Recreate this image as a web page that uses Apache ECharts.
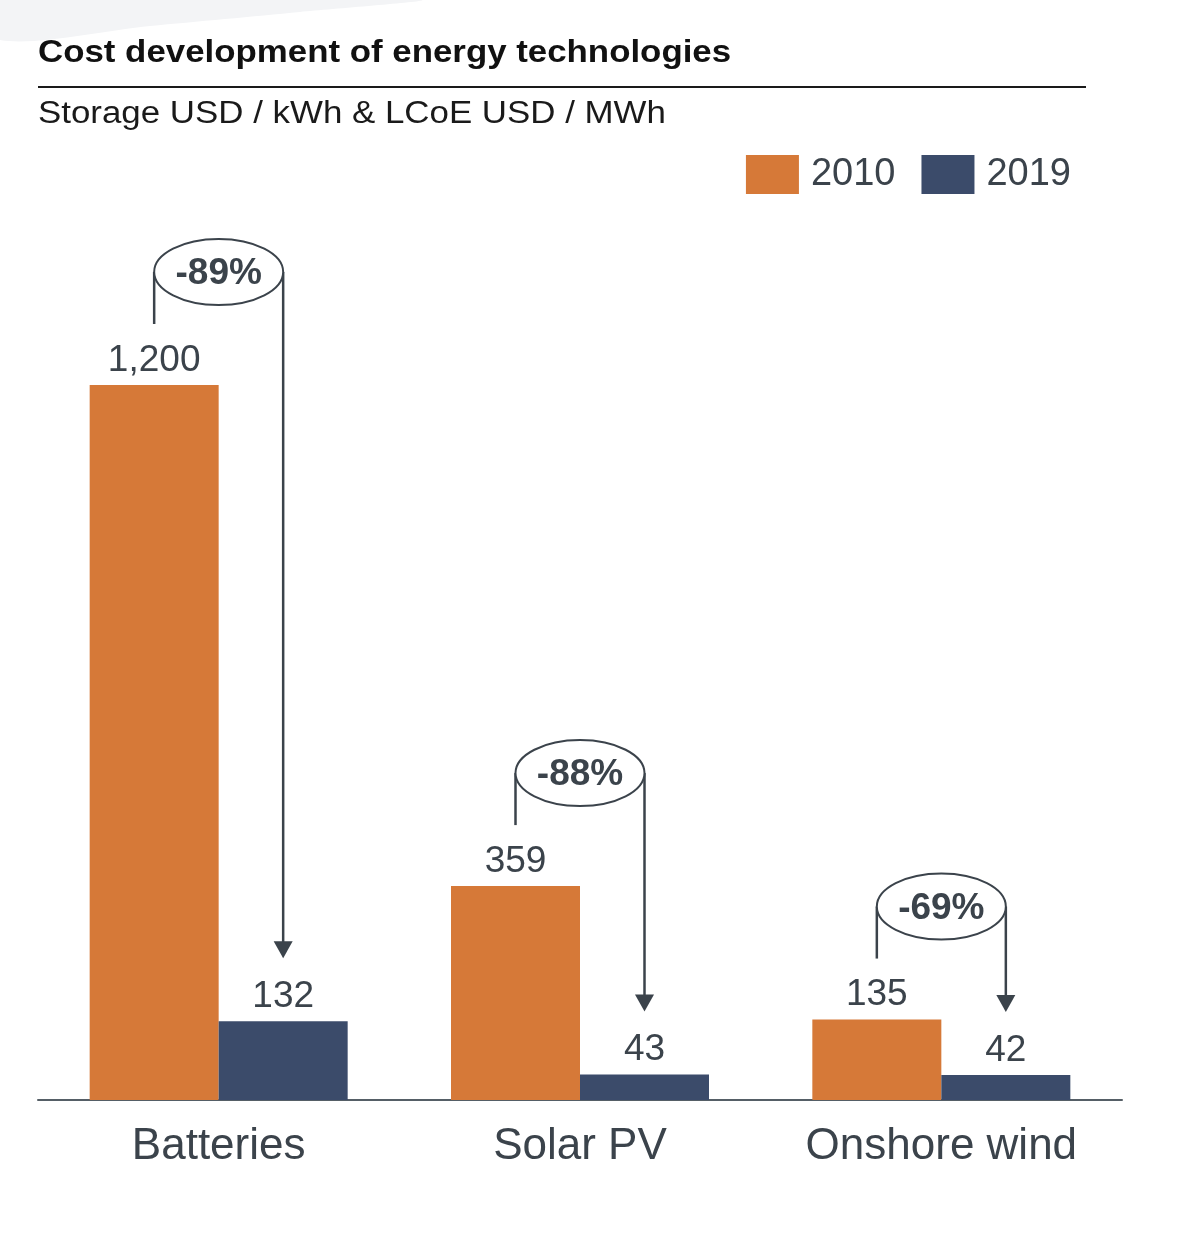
<!DOCTYPE html>
<html>
<head>
<meta charset="utf-8">
<script src="https://cdn.jsdelivr.net/npm/echarts@6/dist/echarts.min.js"></script>
<style>
html,body{margin:0;padding:0;background:#fff;}
#chart{width:1186px;height:1236px;}
</style>
</head>
<body>
<div id="chart"></div>
<script>
const categories = ['Batteries', 'Solar PV', 'Onshore wind'];
const seriesNames = ['2010', '2019'];
const values2010 = [1200, 359, 135];
const values2019 = [132, 43, 42];
const dataLabels2010 = ['1,200', '359', '135'];
const dataLabels2019 = ['132', '43', '42'];
const changeLabels = ['-89%', '-88%', '-69%'];
const titleText = 'Cost development of energy technologies';
const subtitleText = 'Storage USD / kWh & LCoE USD / MWh';

const ORANGE = '#D67938';
const NAVY = '#3B4B6A';
const TEXT = '#3B434B';
const FONT = '"Liberation Sans", Arial, sans-serif';
const BAR_W = 129;

const chart = echarts.init(document.getElementById('chart'), null, {renderer: 'canvas'});

const option = {
  backgroundColor: '#ffffff',
  animation: false,
  legend: {
    data: seriesNames,
    right: 110, top: 150,
    itemWidth: 53, itemHeight: 39, itemGap: 26,
    icon: 'rect',
    textStyle: {fontFamily: FONT, fontSize: 38, color: TEXT, padding: [0, 0, 0, 7]}
  },
  grid: {left: 38, right: 64, top: 385, bottom: 136, containLabel: false},
  xAxis: {
    type: 'category',
    data: categories,
    axisLine: {show: true, lineStyle: {color: '#555e66', width: 2}},
    axisTick: {show: false},
    axisLabel: {fontFamily: FONT, fontSize: 44, color: TEXT, margin: 25}
  },
  yAxis: {
    type: 'value', min: 0, max: 1200, show: false,
    splitLine: {show: false}
  },
  series: [
    {
      name: seriesNames[0], type: 'bar', data: values2010, barWidth: BAR_W, barGap: '0%',
      itemStyle: {color: ORANGE},
      label: {show: true, position: 'top', distance: 6, fontFamily: FONT, fontSize: 37, color: TEXT,
        formatter: p => dataLabels2010[p.dataIndex]}
    },
    {
      name: seriesNames[1], type: 'bar', data: values2019, barWidth: BAR_W, barGap: '0%',
      itemStyle: {color: NAVY},
      label: {show: true, position: 'top', distance: 6, fontFamily: FONT, fontSize: 37, color: TEXT,
        formatter: p => dataLabels2019[p.dataIndex]}
    }
  ]
};
chart.setOption(option);

const g = [];
// faint background swoosh at the top-left
g.push({type: 'polygon', silent: true, z: -10,
  shape: {points: [[0,0],[420,0],[300,12],[150,26],[0,40]], smooth: 0.3},
  style: {fill: '#f3f4f6'}});
// title, rule and subtitle
g.push({type: 'text', x: 38, y: 53, scaleX: 1.124,
  style: {text: titleText, fontFamily: FONT, fontSize: 31, fontWeight: 'bold', fill: '#111111',
    align: 'left', verticalAlign: 'middle'}});
g.push({type: 'line', shape: {x1: 38, y1: 87, x2: 1086, y2: 87},
  style: {stroke: '#1a1a1a', lineWidth: 2}});
g.push({type: 'text', x: 38, y: 114, scaleX: 1.125,
  style: {text: subtitleText, fontFamily: FONT, fontSize: 31, fill: '#1a1a1a',
    align: 'left', verticalAlign: 'middle'}});

// change annotations positioned from the data through the axis scales
categories.forEach((c, i) => {
  const cx = chart.convertToPixel({xAxisIndex: 0}, c);
  const yO = chart.convertToPixel({yAxisIndex: 0}, values2010[i]);
  const yN = chart.convertToPixel({yAxisIndex: 0}, values2019[i]);
  const xL = cx - BAR_W / 2, xR = cx + BAR_W / 2;
  const ey = yO - 113;
  const tipY = yN - 63;
  const lineStyle = {stroke: TEXT, lineWidth: 2.5, fill: null};
  g.push({type: 'line', shape: {x1: xL, y1: ey, x2: xL, y2: yO - 61}, style: lineStyle});
  g.push({type: 'line', shape: {x1: xR, y1: ey, x2: xR, y2: tipY - 14}, style: lineStyle});
  g.push({type: 'polygon', shape: {points: [[xR - 9.5, tipY - 17], [xR + 9.5, tipY - 17], [xR, tipY]]},
    style: {fill: TEXT}});
  g.push({type: 'ellipse', shape: {cx: cx, cy: ey, rx: BAR_W / 2, ry: 33},
    style: {stroke: TEXT, lineWidth: 2, fill: '#ffffff'}, z: 10});
  g.push({type: 'text', x: cx, y: ey + 2, z: 11,
    style: {text: changeLabels[i], fontFamily: FONT, fontSize: 37, fontWeight: 'bold', fill: TEXT,
      align: 'center', verticalAlign: 'middle'}});
});
chart.setOption({graphic: g});
</script>
</body>
</html>
